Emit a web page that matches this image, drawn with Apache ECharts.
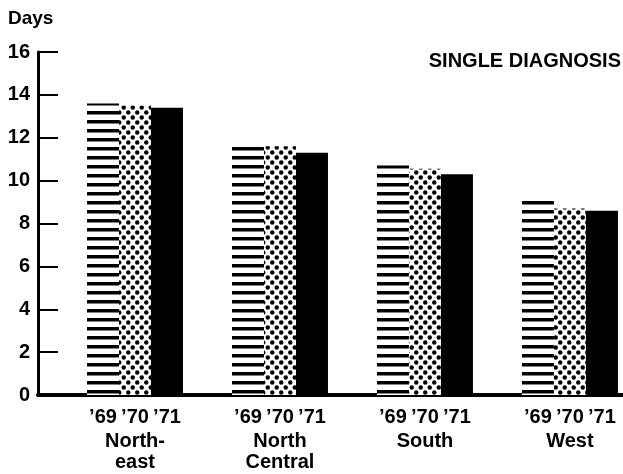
<!DOCTYPE html>
<html>
<head>
<meta charset="utf-8">
<script src="https://cdn.jsdelivr.net/npm/echarts@6/dist/echarts.min.js"></script>
<style>html,body{margin:0;padding:0;background:#fff}#c{width:623px;height:474px}</style>
</head>
<body>
<div id="c"></div>
<script>
const regions = ['North-\neast', 'North\nCentral', 'South', 'West'];
const years = ['’69', '’70', '’71'];
const values69 = [13.6, 11.8, 10.7, 9.2];
const values70 = [13.5, 11.6, 10.55, 8.7];
const values71 = [13.4, 11.3, 10.3, 8.6];
const yTicks = [0, 2, 4, 6, 8, 10, 12, 14, 16];

function stripePattern() {
  const c = document.createElement('canvas');
  c.width = 9; c.height = 9;
  const g = c.getContext('2d');
  g.fillStyle = '#fff'; g.fillRect(0, 0, 9, 9);
  g.fillStyle = '#000'; g.fillRect(0, 3, 9, 3.5);
  return c;
}
function dotPattern() {
  const c = document.createElement('canvas');
  c.width = 9; c.height = 10;
  const g = c.getContext('2d');
  g.fillStyle = '#fff'; g.fillRect(0, 0, 9, 10);
  g.fillStyle = '#000';
  [[2.25, 2.5], [6.75, 7.5]].forEach(p => { g.beginPath(); g.arc(p[0], p[1], 2.2, 0, Math.PI * 2); g.fill(); });
  return c;
}

const chart = echarts.init(document.getElementById('c'));
const font = 'Liberation Sans, Arial, sans-serif';
function mk(vals, idx, color) {
  return {
    type: 'bar',
    data: vals.map((v, i) => [i, v]),
    barWidth: 32,
    barGap: '0%',
    itemStyle: { color: color },
    label: {
      show: true, position: 'bottom', distance: 12,
      formatter: () => years[idx],
      fontFamily: font, fontWeight: 'bold', fontSize: 20, color: '#000'
    },
    silent: true,
    animation: false
  };
}
chart.setOption({
  animation: false,
  title: [
    { text: 'Days', left: 8, top: 9, padding: 0,
      textStyle: { fontFamily: font, fontWeight: 'bold', fontSize: 19, color: '#000' } },
    { text: 'SINGLE DIAGNOSIS', right: 2, top: 51, padding: 0,
      textStyle: { fontFamily: font, fontWeight: 'bold', fontSize: 20, color: '#000' } }
  ],
  grid: { left: 38, right: 0, top: 52, bottom: 79, containLabel: false },
  xAxis: {
    type: 'value', min: -0.669, max: 3.366,
    splitLine: { show: false },
    axisLine: { show: true, onZero: false, lineStyle: { color: '#000', width: 4 } },
    axisTick: { show: false },
    axisLabel: {
      customValues: [0, 1, 2, 3],
      formatter: v => regions[Math.round(v)],
      margin: 36, lineHeight: 21,
      fontFamily: font, fontWeight: 'bold', fontSize: 20, color: '#000'
    }
  },
  yAxis: {
    type: 'value', min: 0, max: 16, interval: 2,
    splitLine: { show: false },
    axisLine: { show: true, onZero: false, lineStyle: { color: '#000', width: 3 } },
    axisTick: { show: true, inside: true, length: 20, lineStyle: { color: '#000', width: 2 } },
    axisLabel: {
      margin: 8, fontFamily: font, fontWeight: 'bold', fontSize: 20, color: '#000',
      formatter: v => yTicks.includes(v) ? String(v) : ''
    }
  },
  series: [
    mk(values69, 0, { image: stripePattern(), repeat: 'repeat' }),
    mk(values70, 1, { image: dotPattern(), repeat: 'repeat' }),
    mk(values71, 2, '#000')
  ]
});
</script>
</body>
</html>
